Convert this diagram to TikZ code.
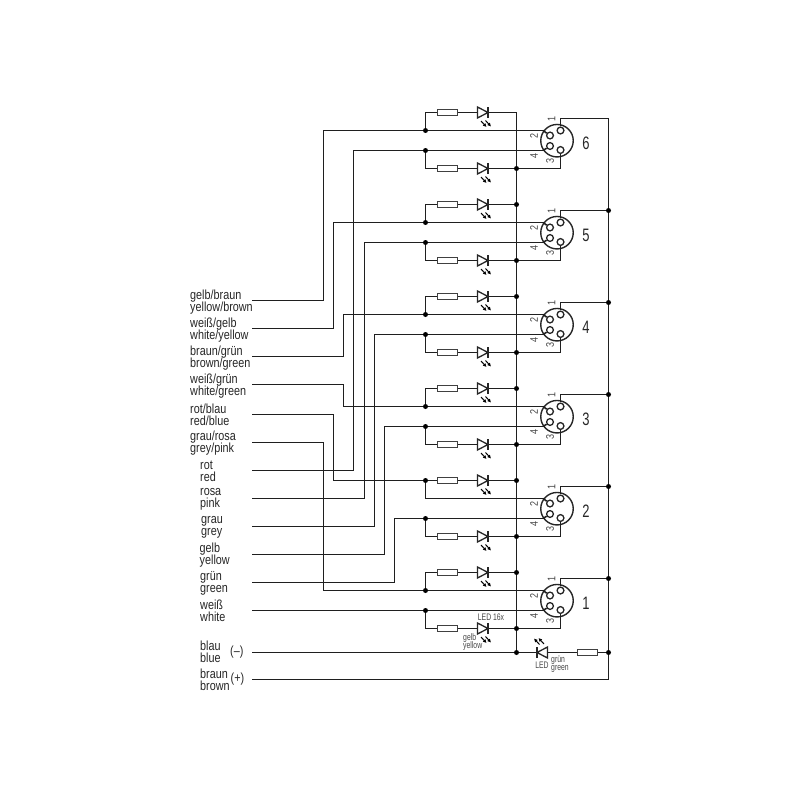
\documentclass[tikz,border=0pt]{standalone}
\usepackage{fontspec}
\setmainfont{Liberation Sans}[FakeStretch=0.82]
\newfontfamily\narrowfont{Liberation Sans}[FakeStretch=0.72]
\usetikzlibrary{arrows.meta}
\newcommand{\tightlines}{\lineskiplimit=-20pt\relax}
\tikzset{
    wire/.style={line width=1.6pt,color=black!88},
    jdot/.style={circle,fill=black,inner sep=0pt,minimum size=5pt},
    resbox/.style={draw=black!75,line width=1.2pt,fill=white,inner sep=0pt,minimum width=20pt,minimum height=6pt},
    jack/.style={circle,draw=black!85,line width=1.4pt,inner sep=0pt,minimum size=32.5pt},
    socket/.style={circle,draw=black!85,line width=1.3pt,inner sep=0pt,minimum size=6.8pt},
    lab/.style={anchor=west,align=left,inner sep=0pt,yshift=-1pt,text=black!85,font=\fontsize{13.2}{12}\selectfont\tightlines},
    tinylab/.style={inner sep=0pt,text=black!72,font=\narrowfont\fontsize{9.5}{8.4}\selectfont\tightlines},
    pinlab/.style={inner sep=0pt,rotate=90,text=black!72,font=\fontsize{11}{11}\selectfont},
    jacklab/.style={inner sep=0pt,text=black!85,font=\narrowfont\fontsize{18}{18}\selectfont},
    ledsym/.pic={
        \draw[fill=white,draw=black!85,line width=1.3pt] (-5.5,-5.5) -- (5,0) -- (-5.5,5.5) -- cycle;
        \draw[line width=1.4pt,draw=black!85] (5,-5.5) -- (5,5.5);
        \draw[line width=1pt,-{Latex[length=3.6pt,width=3.8pt]}] (-2,8.5) -- (3.5,14.5);
        \draw[line width=1pt,-{Latex[length=3.6pt,width=3.8pt]}] (2.5,8) -- (8,14);
    }
}
\begin{document}
\begin{tikzpicture}[x=1pt,y=-1pt]
    \useasboundingbox (0,0) rectangle (800,800);

    % wire start
    \coordinate (w1) at (252,300.5);
    \coordinate (w2) at (252,328.5);
    \coordinate (w3) at (252,356.5);
    \coordinate (w4) at (252,384.5);
    \coordinate (w5) at (252,414.5);
    \coordinate (w6) at (252,442.5);
    \coordinate (w7) at (252,470.5);
    \coordinate (w8) at (252,498.5);
    \coordinate (w9) at (252,526.5);
    \coordinate (w10) at (252,554.5);
    \coordinate (w11) at (252,582.5);
    \coordinate (w12) at (252,610.5);
    \coordinate (w13) at (252,652.5);
    \coordinate (w14) at (252,679.5);

    % wire names
    \node[lab] (l1) at (190,301) {gelb/braun\\yellow/brown};
    \node[lab] (l2) at (190,329) {weiß/gelb\\white/yellow};
    \node[lab] (l3) at (190,357) {braun/grün\\brown/green};
    \node[lab] (l4) at (190,385) {weiß/grün\\white/green};
    \node[lab] (l5) at (190,414) {rot/blau\\red/blue};
    \node[lab] (l6) at (190,442) {grau/rosa\\grey/pink};
    \node[lab] (l7) at (200,470) {rot\\red};
    \node[lab] (l8) at (200,498) {rosa\\pink};
    \node[lab] (l9) at (201,526) {grau\\grey};
    \node[lab] (l10) at (199.5,554) {gelb\\yellow};
    \node[lab] (l11) at (200,582) {grün\\green};
    \node[lab] (l12) at (200,610) {weiß\\white};
    \node[lab] (l13) at (200,651) {blau\\blue};
    \node[lab] (l14) at (200,679) {braun\\brown};
    \node[lab] (minus) at (230,651) {(--)};
    \node[lab] (plus) at (230.5,678) {(+)};

    % one block per jack
    \foreach \n/\oy in {6/0,5/92,4/184,3/276,2/368,1/460} {
        \begin{scope}[yshift=-\oy pt]
            \coordinate (ja\n) at (425.5,112.5);
            \coordinate (ba\n) at (516.5,112.5);
            \coordinate (j\n2) at (425.5,130.5);
            \coordinate (j\n4) at (425.5,150.5);
            \coordinate (jb\n) at (425.5,168.5);
            \coordinate (bb\n) at (516.5,168.5);
            \coordinate (k\n2) at (543,130.5);
            \coordinate (k\n4) at (543,150.5);
            \coordinate (t\n) at (608.5,118.5);

            \node[jack] (con\n) at (557,140.7) {};
            \node[socket] (s\n1) at (560.5,130.5) {};
            \node[socket] (s\n2) at (550,135.5) {};
            \node[socket] (s\n3) at (560.5,150) {};
            \node[socket] (s\n4) at (550,146) {};

            % leds
            \draw[wire] (j\n2) -- (ja\n) -- (ba\n);
            \draw[wire] (j\n4) -- (jb\n) -- (bb\n);
            \node[resbox] (ra\n) at (447.5,112.5) {};
            \node[resbox] (rb\n) at (447.5,168.5) {};
            \pic at (483,112.5) {ledsym};
            \pic at (483,168.5) {ledsym};

            % pins
            \draw[wire] (j\n2) -- (k\n2);
            \draw[wire] (k\n2) -- (s\n2);
            \draw[wire] (j\n4) -- (k\n4);
            \draw[wire] (k\n4) -- (s\n4);
            \draw[wire] (s\n1) |- (t\n);
            \draw[wire] (s\n3) |- (bb\n);

            \node[pinlab] (pa\n) at (551.5,119) {1};
            \node[pinlab] (pb\n) at (534,135.5) {2};
            \node[pinlab] (pc\n) at (550,161) {3};
            \node[pinlab] (pd\n) at (534,156) {4};
            \node[jacklab] (num\n) at (586,143) {\n};
        \end{scope}
    }

    % bus and rail
    \coordinate (busend) at (516.5,652.5);
    \coordinate (railmid) at (608.5,652.5);
    \coordinate (railend) at (608.5,679.5);
    \draw[wire] (ba6) -- (busend);
    \draw[wire] (t6) -- (railend) -- (w14);

    % coloured wires
    \foreach \w/\c/\t in {1/323.5/j62,2/333.5/j52,3/343.5/j42,4/343.5/j32,5/333.5/ja2,6/323.5/j12,
        7/353.5/j64,8/364.5/j54,9/374.5/j44,10/384.5/j34,11/394.5/j24} {
        \draw[wire] (w\w) -| (\c,0 |- \t) -- (\t);
    }
    \draw[wire] (w12) -- (j14);

    % status led
    \draw[wire] (w13) -- (railmid);
    \node[resbox] (rs) at (587.5,652.5) {};
    \pic[rotate=180] at (542,652.5) {ledsym};

    % dots
    \foreach \j in {j62,j52,j42,j32,ja2,j12,j64,j54,j44,j34,j24,j14,
        ba5,ba4,ba3,ba2,ba1,bb6,bb5,bb4,bb3,bb2,bb1,busend,
        t5,t4,t3,t2,t1,railmid} {
        \node[jdot] (d\j) at (\j) {};
    }

    % small texts
    \node[tinylab] (ledn) at (491,617) {LED 16x};
    \node[tinylab,anchor=west,align=left] (yel) at (463,642) {gelb\\yellow};
    \node[tinylab] (ledg) at (542,665) {LED};
    \node[tinylab,anchor=west,align=left] (grn) at (551,664) {grün\\green};
\end{tikzpicture}
\end{document}
